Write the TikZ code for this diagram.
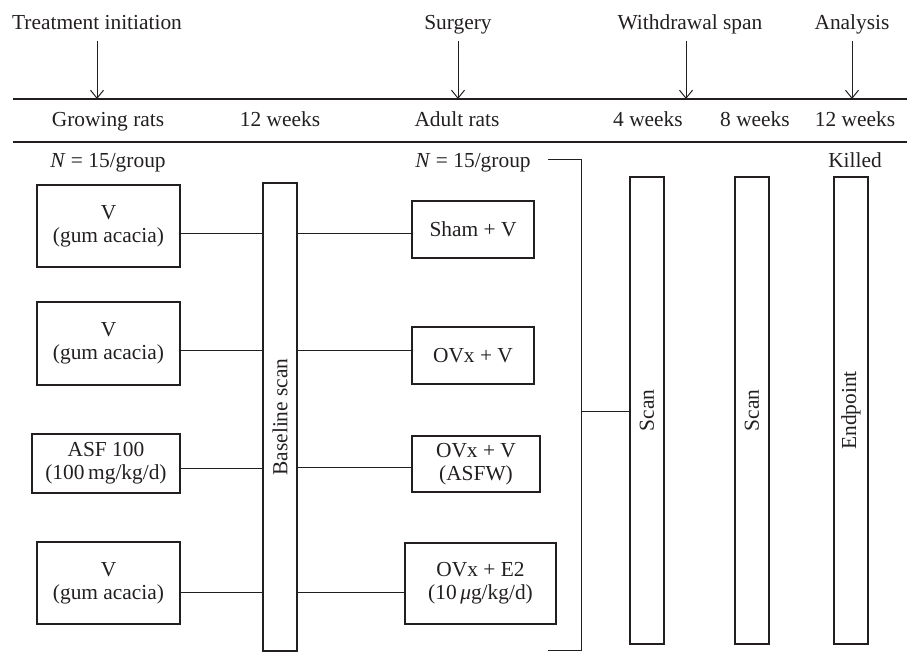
\documentclass[tikz,border=0pt]{standalone}
\usepackage{fontspec}
\setmainfont{Liberation Serif}
\usetikzlibrary{arrows.meta}
\definecolor{ink}{HTML}{231F20}
\begin{document}
\begin{tikzpicture}[x=1pt,y=-1pt,
  every node/.style={font=\fontsize{21.4}{23}\selectfont, text=ink, inner sep=0pt},
  box/.style={draw=ink, line width=1.1pt, align=center},
  conn/.style={draw=ink, line width=1pt},
  rule/.style={draw=ink, line width=1.3pt},
  darr/.style={draw=ink, line width=1pt, -{Straight Barb[length=8pt,width=13pt]}},
  lbl/.style={anchor=base}]
\useasboundingbox (0,0) rectangle (907,669);

% rules
\coordinate (r1a) at (13,99);  \coordinate (r1b) at (907,99);
\coordinate (r2a) at (13,142); \coordinate (r2b) at (907,142);
\draw[rule] (r1a) -- (r1b);
\draw[rule] (r2a) -- (r2b);

% top titles and arrows
\node[lbl] (tt1) at (97,30) {Treatment initiation};
\node[lbl] (tt2) at (458,30) {Surgery};
\node[lbl] (tt3) at (690,30) {Withdrawal span};
\node[lbl] (tt4) at (852,30) {Analysis};
\coordinate (a1) at (97,41);  \draw[darr] (a1) -- (a1 |- r1a);
\coordinate (a2) at (458,41); \draw[darr] (a2) -- (a2 |- r1a);
\coordinate (a3) at (686,41); \draw[darr] (a3) -- (a3 |- r1a);
\coordinate (a4) at (852,41); \draw[darr] (a4) -- (a4 |- r1a);

% second row
\node[lbl] (g1) at (108,126) {Growing rats};
\node[lbl] (g2) at (280,126) {12 weeks};
\node[lbl] (g3) at (457,126) {Adult rats};
\node[lbl] (g4) at (648,126) {4 weeks};
\node[lbl] (g5) at (755,126) {8 weeks};
\node[lbl] (g6) at (855,126) {12 weeks};

% third row
\node[lbl] (n1) at (108,167) {\textit{N} = 15/group};
\node[lbl] (n2) at (473,167) {\textit{N} = 15/group};
\node[lbl] (k1) at (855,167) {Killed};

% left boxes
\node[box, minimum width=143pt, minimum height=82pt] (l1) at (108.5,226) {V\\(gum acacia)};
\node[box, minimum width=143pt, minimum height=83pt] (l2) at (108.5,343.5) {V\\(gum acacia)};
\node[box, minimum width=148pt, minimum height=59pt] (l3) at (106,463.5) {ASF 100\\(100\,mg/kg/d)};
\node[box, minimum width=143pt, minimum height=82pt] (l4) at (108.5,583) {V\\(gum acacia)};

% baseline bar
\node[box, minimum width=34pt, minimum height=468pt] (bar) at (280,417) {};
\node[rotate=90] (bart) at (bar.center) {Baseline scan};

% right boxes
\node[box, minimum width=122pt, minimum height=57pt] (r1) at (473,229.5) {Sham + V};
\node[box, minimum width=122pt, minimum height=57pt] (r2) at (473,355.5) {OVx + V};
\node[box, minimum width=128pt, minimum height=56pt] (r3) at (476,464) {OVx + V\\(ASFW)};
\node[box, minimum width=151pt, minimum height=81pt] (r4) at (480.5,583.5) {OVx + E2\\(10\,\textit{μ}g/kg/d)};

% scan bars
\node[box, minimum width=34pt, minimum height=467pt] (s1) at (647,410.5) {};
\node[rotate=90] (s1t) at (s1.center) {Scan};
\node[box, minimum width=34pt, minimum height=467pt] (s2) at (752,410.5) {};
\node[rotate=90] (s2t) at (s2.center) {Scan};
\node[box, minimum width=34pt, minimum height=467pt] (s3) at (851,410.5) {};
\node[rotate=90] (s3t) at (s3.center) {Endpoint};

% connectors left -> bar
\draw[conn] (l1.east |- 0,233) -- (bar.west |- 0,233);
\draw[conn] (l2.east |- 0,350) -- (bar.west |- 0,350);
\draw[conn] (l3.east |- 0,468) -- (bar.west |- 0,468);
\draw[conn] (l4.east |- 0,592) -- (bar.west |- 0,592);
% connectors bar -> right
\draw[conn] (bar.east |- 0,233) -- (r1.west |- 0,233);
\draw[conn] (bar.east |- 0,350) -- (r2.west |- 0,350);
\draw[conn] (bar.east |- 0,467) -- (r3.west |- 0,467);
\draw[conn] (bar.east |- 0,592) -- (r4.west |- 0,592);

% bracket
\coordinate (b1) at (548,159);
\coordinate (b2) at (581,159);
\coordinate (b3) at (581,650);
\coordinate (b4) at (548,650);
\coordinate (bm) at (581,411);
\draw[conn] (b1) -- (b2) -- (b3) -- (b4);
\draw[conn] (bm) -- (s1.west |- bm);
\end{tikzpicture}
\end{document}
